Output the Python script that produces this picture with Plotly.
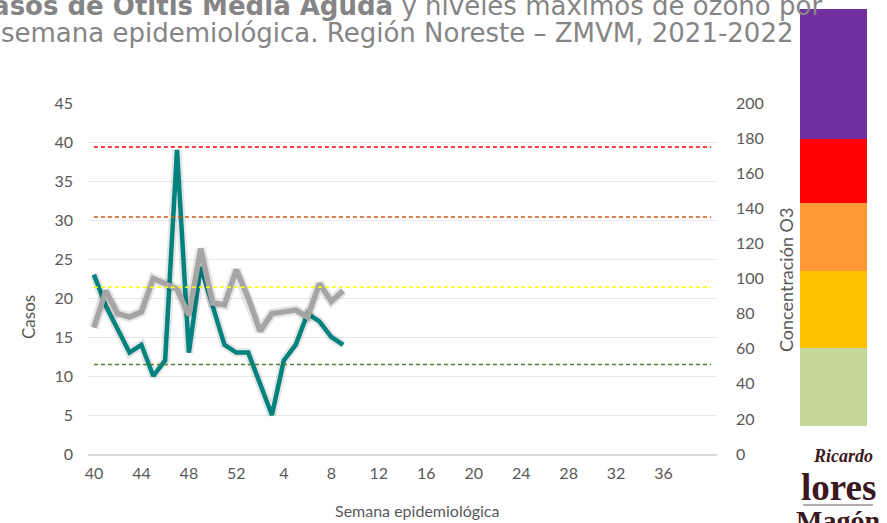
import plotly.graph_objects as go

# ---- data ----
week_labels = [str(w) for w in range(40, 53)] + [str(w) for w in range(1, 41)]
casos = [23, 19, 16, 13, 14, 10, 12, 39, 13, 24, 19, 14, 13, 13, 9, 5, 12, 14, 18, 17, 15, 14]
ozono = [72, 93, 80, 78, 81, 100, 97, 94, 79, 117, 86, 85, 105, 89, 70, 80, 81, 82, 78, 97, 87, 93]
umbrales = [175, 135, 95, 51]
umbral_colores = ["#FF0000", "#C55A11", "#FFFF00", "#548235"]
escala_colores = ["#7030A0", "#FF0000", "#FF9933", "#FFC000", "#C4D79B"]

W, H = 887, 523
L, R, T, B = 88, 170, 103, 69
PW, PH = W - L - R, H - T - B

def px_x(p):
    return (p - L) / PW

def px_y(p):
    return (H - B - p) / PH

idx_all = list(range(len(week_labels)))
x_c = idx_all[:len(casos)]
x_o = idx_all[:len(ozono)]

fig = go.Figure()
fig.add_trace(go.Scatter(x=x_c, y=casos, mode="lines", line=dict(color="rgba(0,0,0,0.10)", width=9),
                         hoverinfo="skip", showlegend=False, yaxis="y"))
fig.add_trace(go.Scatter(x=x_c, y=casos, mode="lines", line=dict(color="#00827F", width=4.5),
                         name="Casos", showlegend=False, yaxis="y"))
fig.add_trace(go.Scatter(x=x_o, y=ozono, mode="lines", line=dict(color="rgba(0,0,0,0.10)", width=10),
                         hoverinfo="skip", showlegend=False, yaxis="y2"))
fig.add_trace(go.Scatter(x=x_o, y=ozono, mode="lines", line=dict(color="#A5A5A5", width=5.5),
                         name="Ozono", showlegend=False, yaxis="y2"))

shapes = []
for v, c in zip(umbrales, umbral_colores):
    shapes.append(dict(type="line", xref="x", yref="y2", x0=idx_all[0], x1=idx_all[-1], y0=v, y1=v,
                       line=dict(color=c, width=1.5, dash="4px,3px"), layer="above"))

# colour scale bar on the right
bar_edges = [9, 139, 203, 271, 348, 426]
for i, c in enumerate(escala_colores):
    shapes.append(dict(type="rect", xref="paper", yref="paper",
                       x0=px_x(800), x1=px_x(867), y0=px_y(bar_edges[i + 1]), y1=px_y(bar_edges[i]),
                       fillcolor=c, line=dict(width=0), layer="above"))

logo_col = "#3B1820"
# thin rule inside the logo
shapes.append(dict(type="line", xref="paper", yref="paper", x0=px_x(803), x1=px_x(873),
                   y0=px_y(505), y1=px_y(505), line=dict(color="#6B5A5E", width=1)))

tickfont = dict(family="Lato, Open Sans, sans-serif", size=16, color="#595959")
title_font = dict(family="DejaVu Sans", size=26, color="#858585")

fig.update_layout(
    width=W, height=H,
    margin=dict(l=L, r=R, t=T, b=B),
    paper_bgcolor="white", plot_bgcolor="white",
    shapes=shapes,
    xaxis=dict(range=[-0.5, len(week_labels) - 0.5], tickvals=idx_all[0:49:4],
               ticktext=week_labels[0:49:4], showgrid=False, zeroline=False,
               showline=True, linecolor="#D9D9D9", linewidth=1.5,
               tickfont=tickfont, ticks="", ticklabelstandoff=4),
    yaxis=dict(range=[0, 45], dtick=5, showgrid=True, gridcolor="#E8E8E8", gridwidth=1.3,
               zeroline=False, tickfont=tickfont, ticks="", ticklabelstandoff=14),
    yaxis2=dict(range=[0, 200], dtick=20, overlaying="y", side="right", showgrid=False,
                zeroline=False, tickfont=tickfont, ticks="", ticklabelstandoff=18),
    annotations=[
        dict(text="<b>Casos de Otitis Media Aguda</b> y niveles máximos de ozono por",
             xref="paper", yref="paper", x=px_x(397), y=px_y(6), xanchor="center", yanchor="middle",
             showarrow=False, font=title_font),
        dict(text="semana epidemiológica. Región Noreste – ZMVM, 2021-2022",
             xref="paper", yref="paper", x=px_x(397), y=px_y(33), xanchor="center", yanchor="middle",
             showarrow=False, font=title_font),
        dict(text="Casos", textangle=-90, xref="paper", yref="paper", x=px_x(28), y=px_y(317),
             xanchor="center", yanchor="middle", showarrow=False,
             font=dict(family="Lato, Open Sans, sans-serif", size=17, color="#595959")),
        dict(text="Semana epidemiológica", xref="paper", yref="paper", x=px_x(417), y=px_y(510),
             xanchor="center", yanchor="middle", showarrow=False,
             font=dict(family="Lato, Open Sans, sans-serif", size=16, color="#595959")),
        dict(text="Concentración O3", textangle=-90, xref="paper", yref="paper", x=px_x(786), y=px_y(280),
             xanchor="center", yanchor="middle", showarrow=False,
             font=dict(family="Lato, Open Sans, sans-serif", size=18, color="#595959")),
        dict(text="<i><b>Ricardo</b></i>", xref="paper", yref="paper", x=px_x(843), y=px_y(456),
             xanchor="center", yanchor="middle", showarrow=False,
             font=dict(family="Liberation Serif", size=18, color=logo_col)),
        dict(text="<b>lores</b>", xref="paper", yref="paper", x=px_x(838), y=px_y(487),
             xanchor="center", yanchor="middle", showarrow=False,
             font=dict(family="Liberation Serif", size=37, color=logo_col)),
        dict(text="<b>Magón</b>", xref="paper", yref="paper", x=px_x(838), y=px_y(520),
             xanchor="center", yanchor="middle", showarrow=False,
             font=dict(family="Liberation Serif", size=28, color=logo_col)),
    ],
)

fig.write_html("out.html", config={"displayModeBar": False},
               post_script="document.body.style.margin='0';")
